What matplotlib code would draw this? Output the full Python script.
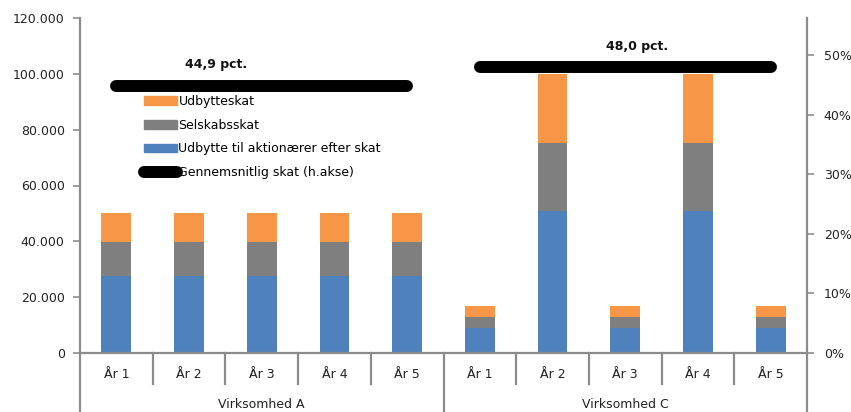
import matplotlib
matplotlib.use("Agg")
import matplotlib.pyplot as plt
from matplotlib.lines import Line2D
from matplotlib.patches import Patch
from matplotlib.ticker import FuncFormatter, PercentFormatter

# ---- data -------------------------------------------------------------
years = ["År 1", "År 2", "År 3", "År 4", "År 5"]
groups = ["Virksomhed A", "Virksomhed C"]

udbytte_efter_skat = [27550, 27550, 27550, 27550, 27550,
                      9050, 50850, 9050, 50850, 9050]
selskabsskat = [12050, 12050, 12050, 12050, 12050,
                3850, 24350, 3850, 24350, 3850]
udbytteskat = [10400, 10400, 10400, 10400, 10400,
               3800, 24800, 3800, 24800, 3800]

gns_skat = [0.449, 0.480]          # average tax per company (right axis)
gns_labels = ["44,9 pct.", "48,0 pct."]

# ---- styling ----------------------------------------------------------
c_blue = "#4F81BD"
c_gray = "#7F7F7F"
c_orange = "#F79646"
c_axis = "#8C8C8C"
plt.rcParams["font.family"] = ["DejaVu Sans"]

W, H = 851, 412
fig = plt.figure(figsize=(W / 100, H / 100), dpi=100)
x0, x1, y0, y1 = 80, 807, 353, 18
ax = fig.add_axes([x0 / W, 1 - y0 / H, (x1 - x0) / W, (y0 - y1) / H])
ax2 = ax.twinx()

n = len(udbytte_efter_skat)
xs = list(range(n))
bw = 0.41

ax.bar(xs, udbytte_efter_skat, bw, color=c_blue, zorder=2)
ax.bar(xs, selskabsskat, bw, bottom=udbytte_efter_skat, color=c_gray, zorder=2)
bottom3 = [a + b for a, b in zip(udbytte_efter_skat, selskabsskat)]
ax.bar(xs, udbytteskat, bw, bottom=bottom3, color=c_orange, zorder=2)

ax.set_xlim(-0.5, n - 0.5)
ax.set_ylim(0, 120000)
ax.set_yticks(range(0, 120001, 20000))
ax.yaxis.set_major_formatter(
    FuncFormatter(lambda v, p: f"{v:,.0f}".replace(",", ".")))

ax2.set_ylim(0, 0.5625)
ax2.set_yticks([0, 0.1, 0.2, 0.3, 0.4, 0.5])
ax2.yaxis.set_major_formatter(PercentFormatter(1.0, decimals=0))

for a in (ax, ax2):
    for s in a.spines.values():
        s.set_visible(False)
    a.tick_params(axis="y", colors=c_axis, labelcolor="#222222",
                  labelsize=9, length=5, width=1.2)
ax.tick_params(axis="y", pad=6)
ax2.tick_params(axis="y", pad=7)
for a, side in ((ax, "left"), (ax, "bottom"), (ax2, "right")):
    sp = a.spines[side]
    sp.set_visible(True)
    sp.set_color(c_axis)
    sp.set_linewidth(1.6)

# category axis: year labels and two-level separators
ax.set_xticks([])
axh = y0 - y1
trans = ax.get_xaxis_transform()
for i in xs:
    ax.text(i, -22 / axh, years[i % 5], transform=trans,
            ha="center", va="center", fontsize=9, color="#222222")
for i in range(n + 1):
    xb = i - 0.5
    depth = 59 / axh if i % 5 == 0 else 31 / axh
    ax.add_line(Line2D([xb, xb], [0, -depth], transform=trans,
                       color=c_axis, lw=1.6, clip_on=False))
for g, name in enumerate(groups):
    ax.text(g * 5 + 2, -51 / axh, name, transform=trans,
            ha="center", va="center", fontsize=9, color="#222222")

# average-tax lines on the secondary axis
label_x = [1.37, 7.16]
for g, val in enumerate(gns_skat):
    ax2.plot([g * 5, g * 5 + 4], [val, val], color="black", lw=8.6,
             solid_capstyle="round", zorder=3)
    ax2.annotate(gns_labels[g], (label_x[g], val), xytext=(0, 15),
                 textcoords="offset points", ha="center", va="center",
                 fontsize=9, fontweight="bold", color="#111111")

handles = [Patch(color=c_orange), Patch(color=c_gray), Patch(color=c_blue),
           Line2D([0], [0], color="black", lw=8.6, solid_capstyle="round")]
labels = ["Udbytteskat", "Selskabsskat",
          "Udbytte til aktionærer efter skat", "Gennemsnitlig skat (h.akse)"]
ax2.legend(handles, labels, loc="upper left", frameon=False,
           bbox_to_anchor=(144 / W, 1 - 95 / H), bbox_transform=fig.transFigure,
           borderaxespad=0, borderpad=0, fontsize=9, handlelength=2.6,
           handletextpad=0.15, labelspacing=0.85, handleheight=0.7)

fig.savefig("out.png", dpi=100)
